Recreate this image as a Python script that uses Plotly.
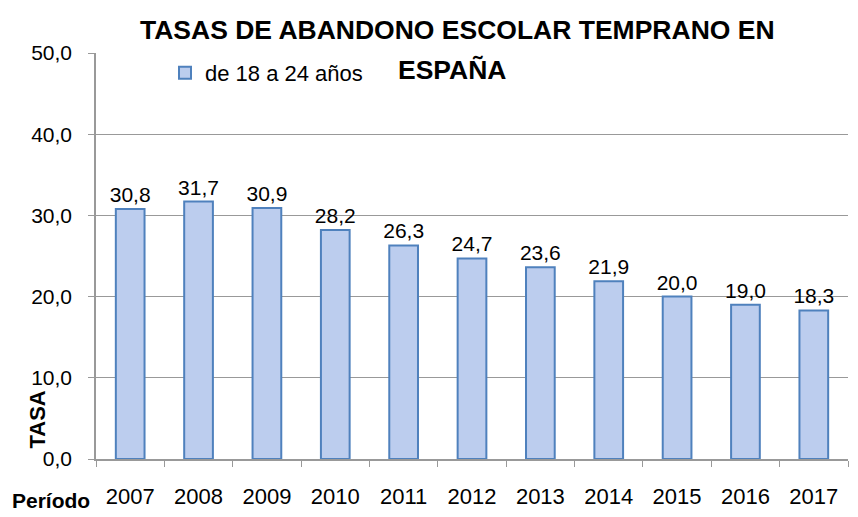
import plotly.graph_objects as go

years = ["2007", "2008", "2009", "2010", "2011", "2012", "2013", "2014", "2015", "2016", "2017"]
tasa = [30.8, 31.7, 30.9, 28.2, 26.3, 24.7, 23.6, 21.9, 20.0, 19.0, 18.3]
series_name = "de 18 a 24 años"
title_l1 = "TASAS DE ABANDONO ESCOLAR TEMPRANO EN"
title_l2 = "ESPAÑA"
y_ticks = [0, 10, 20, 30, 40, 50]

FONT = "Liberation Sans"

# plot area in page pixels (the page body adds an 8px offset)
OFF = 8
PX0, PX1, PY0, PY1 = 96, 848, 53, 459
W, H = 858, 517


def px(X):
    return (X - PX0) / (PX1 - PX0)


def py(Y):
    return (PY1 - Y) / (PY1 - PY0)


fig = go.Figure()
fig.add_trace(go.Bar(
    x=years, y=tasa, name=series_name,
    marker=dict(color="#bccdee", line=dict(color="#4f81bd", width=2)),
    texttemplate="%{y:.1f}", textposition="outside", constraintext="none",
    textfont=dict(family=FONT, size=21, color="#000"),
    cliponaxis=False,
))

fig.update_layout(
    width=W, height=H,
    margin=dict(l=PX0 - OFF, r=W - (PX1 - OFF), t=PY0 - OFF, b=H - (PY1 - OFF)),
    paper_bgcolor="white", plot_bgcolor="white",
    separators=",.",
    bargap=0.58,
    showlegend=True,
    legend=dict(x=px(165), y=py(73), xanchor="left", yanchor="middle",
                font=dict(family=FONT, size=22, color="#000"),
                bgcolor="rgba(0,0,0,0)", itemwidth=30),
    font=dict(family=FONT, color="#000"),
    xaxis=dict(
        type="category", showline=True, linecolor="#999", linewidth=1.5,
        ticks="outside", tickson="boundaries", ticklen=6, tickcolor="#999",
        tickfont=dict(family=FONT, size=22, color="#000"),
        ticklabelstandoff=17, showgrid=False,
    ),
    yaxis=dict(
        range=[0, 50], tickvals=y_ticks, tickformat=".1f",
        showline=True, linecolor="#999", linewidth=1.5,
        ticks="outside", ticklen=6, tickcolor="#999",
        showgrid=True, gridcolor="#999", gridwidth=1.2,
        tickfont=dict(family=FONT, size=21, color="#000"),
        ticklabelstandoff=12,
        zeroline=False,
    ),
    annotations=[
        dict(text="<b>" + title_l1 + "</b>", x=px(457), y=py(30), xref="paper", yref="paper",
             showarrow=False, yanchor="middle", font=dict(family=FONT, size=26.5, color="#000")),
        dict(text="<b>" + title_l2 + "</b>", x=px(452), y=py(70), xref="paper", yref="paper",
             showarrow=False, yanchor="middle", font=dict(family=FONT, size=26.5, color="#000")),
        dict(text="<b>Período</b>", x=px(10), y=py(500), xref="paper", yref="paper",
             showarrow=False, xanchor="left", yanchor="middle",
             font=dict(family=FONT, size=21, color="#000")),
        dict(text="<b>TASA</b>", x=px(22), y=py(420), xref="paper", yref="paper",
             showarrow=False, textangle=-90, yanchor="middle",
             font=dict(family=FONT, size=22, color="#000")),
    ],
)

fig.write_html("out.html")
